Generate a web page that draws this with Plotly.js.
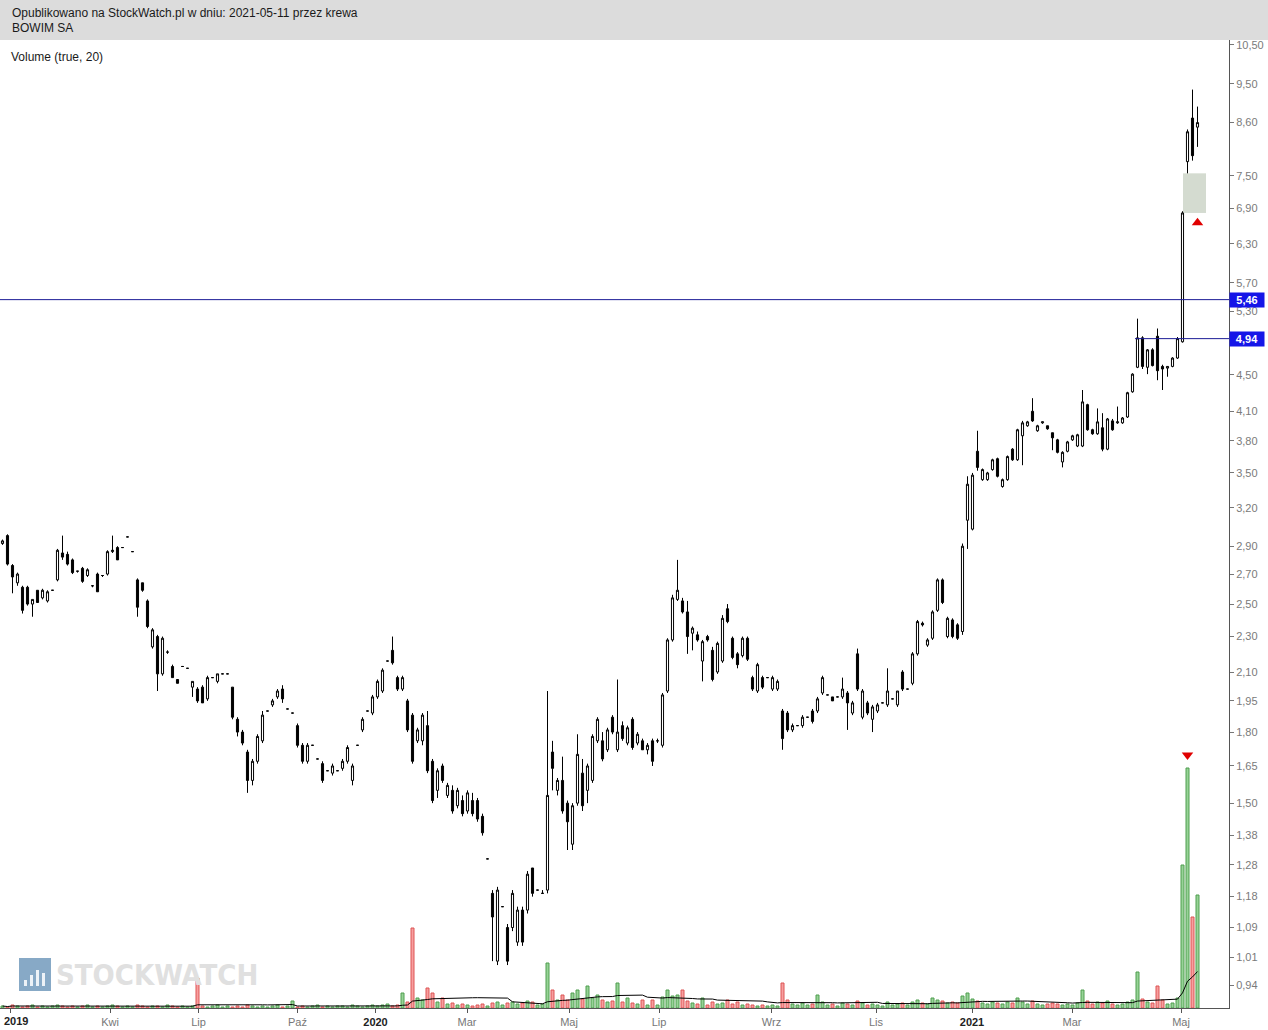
<!DOCTYPE html>
<html>
<head>
<meta charset="utf-8">
<script src="https://cdn.plot.ly/plotly-3.0.1.min.js"></script>
<style>html,body{margin:0;padding:0;background:#fff;}#chart{width:1268px;height:1030px;}</style>
</head>
<body>
<div id="chart"></div>
<script>
// ---- data (BOWIM SA, 2019-01 .. 2021-05-11), one candle per slot ----
const open = [
2.92,2.98,2.76,2.64,2.61,2.61,2.50,2.59,2.54,2.52,
2.59,2.66,2.85,2.84,2.80,2.72,2.74,2.69,2.62,2.70,
2.69,2.70,2.86,2.89,2.89,2.97,2.86,2.66,2.64,2.52,
2.24,2.30,2.09,2.21,2.13,2.06,2.13,2.12,2.02,2.01,
2.02,1.96,2.07,2.05,2.09,2.09,2.02,1.86,1.80,1.71,
1.59,1.67,1.76,1.90,1.93,1.97,2.01,1.91,1.89,1.83,
1.74,1.67,1.74,1.68,1.66,1.63,1.62,1.63,1.64,1.67,
1.59,1.74,1.81,1.90,1.89,1.97,2.00,2.16,2.22,2.07,
2.01,1.95,1.88,1.76,1.76,1.83,1.67,1.55,1.65,1.53,
1.55,1.49,1.51,1.47,1.51,1.51,1.45,1.30,1.19,1.00,
1.15,1.09,1.09,1.05,1.14,1.14,1.27,1.20,1.19,1.20,
1.71,1.55,1.59,1.50,1.35,1.50,1.62,1.55,1.59,1.76,
1.76,1.72,1.87,1.72,1.83,1.75,1.86,1.75,1.76,1.72,
1.76,1.76,1.74,2.00,2.28,2.53,2.52,2.45,2.32,2.31,
2.16,2.30,2.22,2.10,2.16,2.47,2.29,2.20,2.19,2.29,
2.07,2.00,2.07,2.07,2.01,2.01,1.90,1.89,1.81,1.83,
1.83,1.87,1.90,1.90,1.99,1.98,1.97,1.97,1.97,1.99,
1.89,2.20,1.87,1.94,1.86,1.90,1.94,1.93,1.96,1.93,
2.10,2.01,2.04,2.20,2.38,2.25,2.29,2.46,2.66,2.30,
2.40,2.37,2.33,3.10,3.03,3.70,3.44,3.44,3.53,3.63,
3.38,3.44,3.72,3.62,3.85,3.95,4.10,3.90,3.98,3.95,
3.88,3.81,3.60,3.70,3.81,3.75,3.75,4.17,3.91,3.87,
3.93,3.72,4.00,3.98,3.98,4.04,4.31,4.59,4.95,4.59,
4.80,4.97,4.60,4.58,4.60,4.70,4.90,7.78,8.70,8.50];
const high = [
2.95,2.99,2.77,2.71,2.62,2.62,2.53,2.59,2.60,2.59,
2.59,2.88,2.98,2.86,2.81,2.72,2.75,2.74,2.62,2.71,
2.69,2.87,2.98,2.90,2.89,2.97,2.86,2.67,2.64,2.53,
2.35,2.31,2.30,2.22,2.14,2.06,2.13,2.12,2.05,2.02,
2.03,2.08,2.07,2.09,2.09,2.09,2.02,1.87,1.81,1.72,
1.68,1.79,1.90,1.90,1.96,2.01,2.03,1.91,1.89,1.84,
1.75,1.75,1.74,1.68,1.67,1.63,1.66,1.63,1.68,1.74,
1.66,1.74,1.87,1.90,1.98,2.06,2.12,2.16,2.30,2.08,
2.08,1.96,1.89,1.82,1.89,1.90,1.68,1.64,1.66,1.58,
1.57,1.56,1.53,1.55,1.54,1.52,1.46,1.30,1.20,1.21,
1.15,1.10,1.20,1.15,1.15,1.26,1.27,1.20,1.20,2.00,
1.76,1.60,1.69,1.51,1.50,1.79,1.68,1.66,1.79,1.87,
1.80,1.82,1.88,2.06,1.85,1.83,1.87,1.80,1.77,1.75,
1.77,1.77,1.99,2.29,2.56,2.80,2.54,2.52,2.36,2.33,
2.28,2.31,2.24,2.27,2.43,2.50,2.30,2.21,2.30,2.30,
2.08,2.15,2.08,2.07,2.08,2.06,1.91,1.90,1.84,1.83,
1.88,1.87,1.91,1.97,2.08,1.98,1.97,1.97,2.07,2.00,
1.95,2.23,2.01,1.95,1.93,1.94,1.94,2.12,1.96,2.00,
2.11,2.01,2.21,2.40,2.39,2.29,2.46,2.67,2.67,2.42,
2.41,2.38,2.92,3.47,3.50,3.90,3.54,3.51,3.63,3.64,
3.45,3.66,3.73,3.92,4.00,4.00,4.24,3.96,3.99,3.95,
3.88,3.82,3.70,3.80,3.86,3.87,4.33,4.18,3.92,4.13,
4.08,4.03,4.02,4.15,4.04,4.31,4.52,5.20,4.97,4.81,
4.82,5.07,4.62,4.60,4.71,4.96,6.85,8.45,9.36,8.96];
const low = [
2.91,2.76,2.57,2.62,2.44,2.49,2.42,2.51,2.53,2.51,
2.59,2.65,2.80,2.76,2.70,2.71,2.64,2.68,2.61,2.58,
2.68,2.69,2.85,2.80,2.89,2.97,2.86,2.42,2.58,2.35,
2.23,2.00,2.08,2.20,2.07,2.04,2.13,2.12,1.97,1.94,
1.94,1.95,2.07,2.04,2.09,2.09,1.86,1.78,1.74,1.54,
1.57,1.66,1.75,1.90,1.92,1.96,1.94,1.91,1.89,1.73,
1.66,1.66,1.74,1.68,1.58,1.63,1.61,1.63,1.63,1.66,
1.57,1.74,1.80,1.90,1.88,1.96,1.99,2.16,2.14,2.00,
2.00,1.80,1.66,1.75,1.74,1.62,1.50,1.52,1.58,1.52,
1.46,1.48,1.45,1.46,1.45,1.43,1.38,1.30,1.00,0.99,
1.15,0.99,1.08,1.04,1.04,1.13,1.18,1.20,1.19,1.19,
1.55,1.53,1.46,1.33,1.33,1.49,1.47,1.50,1.58,1.75,
1.67,1.71,1.79,1.71,1.76,1.74,1.72,1.74,1.72,1.70,
1.65,1.75,1.73,1.99,2.27,2.52,2.44,2.20,2.22,2.27,
2.05,2.27,2.05,2.09,2.15,2.38,2.17,2.12,2.18,2.16,
2.00,1.99,2.01,2.07,2.00,2.00,1.72,1.80,1.80,1.83,
1.82,1.87,1.84,1.89,1.98,1.98,1.95,1.97,1.96,1.81,
1.88,2.00,1.86,1.88,1.80,1.89,1.94,1.92,1.96,1.92,
2.00,2.01,2.03,2.19,2.36,2.24,2.28,2.45,2.50,2.29,
2.29,2.28,2.31,2.88,3.02,3.52,3.43,3.43,3.52,3.46,
3.37,3.43,3.61,3.61,3.57,3.94,3.99,3.89,3.97,3.91,
3.71,3.68,3.55,3.69,3.80,3.74,3.74,3.90,3.86,3.86,
3.70,3.71,3.90,3.97,3.97,4.03,4.30,4.58,4.57,4.51,
4.60,4.44,4.33,4.48,4.59,4.69,4.89,7.55,7.80,8.08];
const close = [
2.94,2.77,2.68,2.70,2.46,2.50,2.53,2.51,2.59,2.58,
2.59,2.87,2.82,2.77,2.71,2.72,2.65,2.73,2.62,2.58,
2.69,2.86,2.87,2.80,2.89,2.97,2.86,2.48,2.59,2.36,
2.34,2.09,2.29,2.21,2.07,2.04,2.13,2.12,2.05,1.95,
1.94,2.07,2.07,2.09,2.09,2.09,1.87,1.80,1.75,1.59,
1.67,1.78,1.88,1.90,1.95,2.00,1.96,1.91,1.89,1.74,
1.67,1.74,1.74,1.68,1.59,1.63,1.65,1.63,1.67,1.73,
1.65,1.74,1.86,1.90,1.97,2.05,2.11,2.16,2.15,2.01,
2.07,1.81,1.67,1.81,1.88,1.63,1.51,1.63,1.59,1.57,
1.47,1.55,1.46,1.54,1.46,1.44,1.39,1.30,1.12,1.20,
1.15,1.00,1.19,1.14,1.05,1.25,1.19,1.20,1.19,1.53,
1.64,1.59,1.47,1.43,1.49,1.70,1.49,1.65,1.78,1.86,
1.68,1.81,1.80,1.80,1.77,1.82,1.73,1.79,1.72,1.74,
1.67,1.76,1.98,2.28,2.54,2.59,2.45,2.30,2.35,2.28,
2.27,2.28,2.06,2.26,2.41,2.39,2.18,2.14,2.29,2.17,
2.01,2.14,2.02,2.07,2.07,2.05,1.77,1.81,1.83,1.83,
1.87,1.87,1.85,1.96,2.07,1.98,1.95,1.97,2.01,1.94,
1.94,2.01,2.00,1.89,1.92,1.93,1.94,2.00,1.96,2.00,
2.01,2.01,2.20,2.39,2.37,2.28,2.45,2.66,2.51,2.41,
2.30,2.29,2.90,3.40,3.48,3.55,3.53,3.50,3.62,3.47,
3.44,3.65,3.62,3.91,3.98,3.99,4.00,3.95,3.99,3.92,
3.83,3.69,3.69,3.79,3.85,3.86,4.20,3.91,3.87,3.99,
3.72,4.02,3.91,3.99,4.03,4.30,4.51,4.95,4.60,4.80,
4.61,4.55,4.57,4.60,4.70,4.94,6.82,8.40,7.90,8.60];
const volume = [
2,1,3,2,1,2,3,1,2,1,
2,3,2,1,2,1,2,3,1,2,
1,2,3,2,1,2,1,3,2,1,
2,2,1,3,2,1,2,1,2,30,
2,1,2,3,1,2,1,2,1,3,
2,1,2,1,2,3,1,2,7,1,
2,1,2,3,1,2,1,2,2,1,
3,2,1,2,3,2,3,4,2,3,
15,6,80,10,8,20,15,6,10,4,
5,3,4,3,2,3,4,2,5,6,
3,5,6,4,5,7,6,3,4,45,
18,8,13,8,15,18,9,22,10,13,
8,6,7,25,6,10,5,4,8,3,
8,3,11,18,12,13,18,7,5,4,
10,3,6,4,5,8,4,6,3,4,
3,2,3,2,3,2,25,8,4,3,
5,3,4,13,6,3,4,2,5,4,
3,7,5,3,4,3,2,6,3,4,
5,3,6,8,5,4,10,8,7,5,
6,5,12,15,9,7,5,4,6,5,
4,6,5,10,6,4,7,4,3,4,
5,4,3,4,3,5,18,7,4,6,
5,7,4,3,4,6,8,36,9,6,
5,22,8,4,5,10,143,240,91,113];
const maPeriod = 20;

const yTickVals = [10.5,9.5,8.6,7.5,6.9,6.3,5.7,5.3,4.5,4.1,3.8,3.5,3.2,2.9,2.7,2.5,2.3,2.1,1.95,1.8,1.65,1.5,1.38,1.28,1.18,1.09,1.01,0.94];
const xTickPos = [1.5,21.5,39.2,59,74.6,92.9,113.3,131.3,153.8,174.7,193.9,213.9,235.7];
const xTickText = ['2019','Kwi','Lip','Paź','2020','Mar','Maj','Lip','Wrz','Lis','2021','Mar','Maj'];
const yearLabels = ['2019','2020','2021'];
const levelLines = [5.46, 4.94];
const level494Start = 226.5;
const gapLow = 6.82, gapHigh = 7.55;
const gapStart = 236.1, gapEnd = 240.7;
const signalUp = {x: 239, y: 6.65};
const signalDown = {x: 237, v: 253};

const headerLine1 = 'Opublikowano na StockWatch.pl w dniu: 2021-05-11 przez krewa';
const headerLine2 = 'BOWIM SA';
const indicatorLabel = 'Volume (true, 20)';

// ---- derived ----
const idx = open.map((_, i) => i);
const up = open.map((o, i) => close[i] >= o);
const volMA = volume.map((_, i) => {
  const s = Math.max(0, i - maPeriod + 1);
  let sum = 0; for (let k = s; k <= i; k++) sum += volume[k];
  return sum / (i - s + 1);
});
const fmt = v => v.toFixed(2).replace('.', ',');

const W = 1268, H = 1030, ML = 0, MR = 39, MT = 40, MB = 22;
const PW = W - ML - MR, PH = H - MT - MB;
const px = x => (x - ML) / PW;
const py = y => (H - MB - y) / PH;

const font = 'Liberation Sans, Arial, sans-serif';

const traces = [
  {
    type: 'candlestick', x: idx, open: open, high: high, low: low, close: close,
    increasing: {line: {color: '#000', width: 1}, fillcolor: '#ffffff'},
    decreasing: {line: {color: '#000', width: 1}, fillcolor: '#000000'},
    whiskerwidth: 0, hoverinfo: 'skip', showlegend: false
  },
  {
    type: 'bar', x: idx, y: volume, yaxis: 'y2', width: 0.6,
    marker: {
      color: up.map(u => u ? 'rgba(125,200,125,0.8)' : 'rgba(245,135,135,0.8)'),
      line: {color: up.map(u => u ? '#4e9e4e' : '#dd5555'), width: 1}
    },
    hoverinfo: 'skip', showlegend: false
  },
  {
    type: 'scatter', mode: 'lines', x: idx, y: volMA, yaxis: 'y2',
    line: {color: '#000', width: 1}, hoverinfo: 'skip', showlegend: false
  },
  {
    type: 'scatter', mode: 'markers', x: [signalUp.x], y: [signalUp.y],
    marker: {symbol: 'triangle-up', size: 10, color: '#e00000'}, hoverinfo: 'skip', showlegend: false
  },
  {
    type: 'scatter', mode: 'markers', x: [signalDown.x], y: [signalDown.v], yaxis: 'y2',
    marker: {symbol: 'triangle-down', size: 10, color: '#e00000'}, hoverinfo: 'skip', showlegend: false
  }
];

const shapes = [
  // header band
  {type: 'rect', xref: 'paper', yref: 'paper', x0: px(0), x1: px(W), y0: py(40), y1: py(0),
   fillcolor: '#dcdcdc', line: {width: 0}, layer: 'below'},
  // price gap
  {type: 'rect', xref: 'x', yref: 'y', x0: gapStart, x1: gapEnd, y0: gapLow, y1: gapHigh,
   fillcolor: '#d4dbd0', line: {width: 0}, layer: 'below'},
  // level lines
  {type: 'line', xref: 'paper', yref: 'y', x0: 0, x1: 1, y0: levelLines[0], y1: levelLines[0],
   line: {color: '#1c1c96', width: 1}},
  {type: 'line', xref: 'x', yref: 'y', x0: level494Start, x1: 245.3, y0: levelLines[1], y1: levelLines[1],
   line: {color: '#1c1c96', width: 1}},
  // watermark icon
  {type: 'rect', xref: 'paper', yref: 'paper', x0: px(19), x1: px(51), y0: py(991), y1: py(958),
   fillcolor: '#5f8cb3', opacity: 0.75, line: {width: 0}, layer: 'below'}
];
[[24, 980], [30, 975], [36, 970], [42, 973]].forEach(([bx, top]) => {
  shapes.push({type: 'rect', xref: 'paper', yref: 'paper', x0: px(bx), x1: px(bx + 3), y0: py(986), y1: py(top),
    fillcolor: '#ffffff', opacity: 0.85, line: {width: 0}, layer: 'below'});
});

const annotations = [
  {xref: 'paper', yref: 'paper', x: px(10), y: py(13), xanchor: 'left', yanchor: 'middle', showarrow: false,
   text: headerLine1, font: {family: font, size: 12, color: '#1a1a1a'}},
  {xref: 'paper', yref: 'paper', x: px(10), y: py(28), xanchor: 'left', yanchor: 'middle', showarrow: false,
   text: headerLine2, font: {family: font, size: 12, color: '#1a1a1a'}},
  {xref: 'paper', yref: 'paper', x: px(9), y: py(57), xanchor: 'left', yanchor: 'middle', showarrow: false,
   text: indicatorLabel, font: {family: font, size: 12, color: '#1a1a1a'}},
  {xref: 'paper', yref: 'paper', x: px(54), y: py(975), xanchor: 'left', yanchor: 'middle', showarrow: false,
   text: '<b>STOCKWATCH</b>', font: {family: 'Liberation Sans Narrow, DejaVu Sans Condensed, Arial Narrow, sans-serif', size: 29, color: '#e0e0e0'}},
  // first year label, kept fully inside the picture
  {xref: 'paper', yref: 'paper', x: px(2), y: py(1021), xanchor: 'left', yanchor: 'middle', showarrow: false,
   text: '<b>' + xTickText[0] + '</b>', font: {family: font, size: 11, color: '#222'}}
];
levelLines.forEach(v => {
  annotations.push({xref: 'paper', yref: 'y', x: 1, y: Math.log10(v), xanchor: 'left', yanchor: 'middle',
    showarrow: false, text: '<b>' + fmt(v) + '</b>', bgcolor: '#1515e8', width: 32, height: 12, borderpad: 1,
    align: 'center', font: {family: font, size: 11, color: '#ffffff'}});
});

const layout = {
  width: W, height: H,
  margin: {l: ML, r: MR, t: MT, b: MB, pad: 0},
  paper_bgcolor: '#ffffff', plot_bgcolor: '#ffffff',
  showlegend: false, hovermode: false, boxgap: 0.4,
  xaxis: {
    type: 'linear', range: [-0.5, 245.3], rangeslider: {visible: false},
    showgrid: false, zeroline: false, showline: true, linecolor: '#555', linewidth: 1,
    ticks: 'outside', ticklen: 4, tickcolor: '#555', automargin: false,
    tickvals: xTickPos,
    ticktext: xTickText.map((t, i) => {
      if (i === 0) return '';
      return yearLabels.includes(t) ? '<b><span style="color:#222">' + t + '</span></b>' : t;
    }),
    tickfont: {family: font, size: 11, color: '#777'}
  },
  yaxis: {
    type: 'log', side: 'right',
    range: [Math.log10(0.8867), Math.log10(10.63)],
    showgrid: false, zeroline: false, showline: true, linecolor: '#555', linewidth: 1,
    ticks: 'outside', ticklen: 4, tickcolor: '#777', automargin: false,
    ticklabeloverflow: 'allow',
    tickvals: yTickVals, ticktext: yTickVals.map(fmt),
    tickfont: {family: font, size: 11, color: '#7a7a7a'}
  },
  yaxis2: {overlaying: 'y', range: [0, PH], visible: false, fixedrange: true},
  shapes: shapes, annotations: annotations
};

Plotly.newPlot('chart', traces, layout, {staticPlot: true, displayModeBar: false});
</script>
</body>
</html>
